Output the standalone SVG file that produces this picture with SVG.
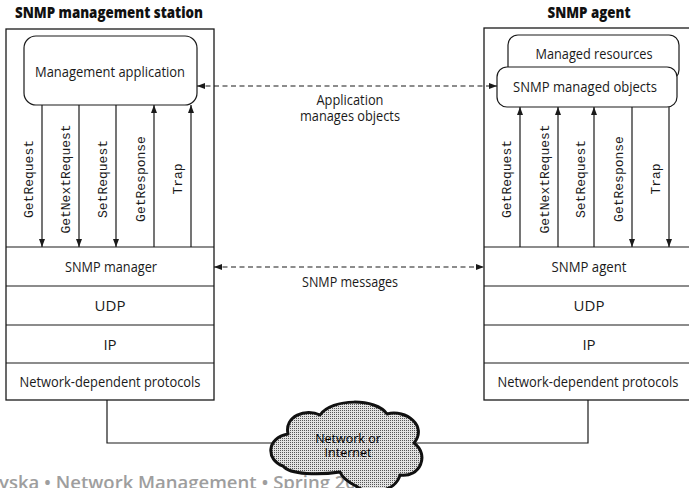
<svg xmlns="http://www.w3.org/2000/svg" width="689" height="488" viewBox="0 0 689 488">
<style>
.box{fill:#fff;stroke:#1a1a1a;stroke-width:1.3}
.rbox{fill:#fff;stroke:#1a1a1a;stroke-width:1.2}
.ln{fill:none;stroke:#1a1a1a;stroke-width:1.2}
.dash{fill:none;stroke:#1a1a1a;stroke-width:1.2;stroke-dasharray:5 3.5}
.t{font-family:"Open Sans","Liberation Sans",sans-serif;font-size:15px;fill:#1a1a1a;text-anchor:middle}
.h{font-family:"Open Sans","Liberation Sans",sans-serif;font-size:15px;font-weight:800;fill:#111;text-anchor:middle}
.m{font-family:"Liberation Mono","Courier New",monospace;font-size:13px;fill:#1a1a1a;text-anchor:middle}
.c{font-family:"Open Sans","Liberation Sans",sans-serif;font-size:12.5px;fill:#000;text-anchor:middle}
.f{font-family:"Open Sans","Liberation Sans",sans-serif;font-size:18.5px;font-weight:600;fill:#9e9e9e}
</style>
<defs>
<marker id="ah" markerWidth="8" markerHeight="6" refX="8" refY="3" orient="auto-start-reverse" markerUnits="userSpaceOnUse">
<path d="M0,0 L8,3 L0,6 z" fill="#1a1a1a"/>
</marker>
<pattern id="dots" width="2" height="2" patternUnits="userSpaceOnUse">
<rect width="2" height="2" fill="#e2e2e2"/>
<rect width="1" height="1" fill="#555"/>
</pattern>
</defs>
<rect width="689" height="488" fill="#fff"/>

<text class="f" x="-1" y="489">yska • Network Management • Spring 2021</text>

<g id="station">
<text class="h" x="109" y="18" textLength="188" lengthAdjust="spacingAndGlyphs">SNMP management station</text>
<rect class="box" x="6" y="29" width="208" height="371"/>
<line class="ln" x1="6" y1="247" x2="214" y2="247"/>
<line class="ln" x1="6" y1="286" x2="214" y2="286"/>
<line class="ln" x1="6" y1="325" x2="214" y2="325"/>
<line class="ln" x1="6" y1="363" x2="214" y2="363"/>
<text class="t" x="111" y="272" textLength="92" lengthAdjust="spacingAndGlyphs">SNMP manager</text>
<text class="t" x="110" y="311">UDP</text>
<text class="t" x="110" y="350">IP</text>
<text class="t" x="110" y="387" textLength="181" lengthAdjust="spacingAndGlyphs">Network-dependent protocols</text>
</g>

<g id="mgmt-app">
<rect class="rbox" x="24" y="36" width="173" height="69" rx="12"/>
<text class="t" x="110" y="77" textLength="150" lengthAdjust="spacingAndGlyphs">Management application</text>
</g>

<g id="agent">
<text class="h" x="589" y="18" textLength="83" lengthAdjust="spacingAndGlyphs">SNMP agent</text>
<rect class="box" x="484" y="28" width="212" height="372"/>
<line class="ln" x1="484" y1="247" x2="696" y2="247"/>
<line class="ln" x1="484" y1="286" x2="696" y2="286"/>
<line class="ln" x1="484" y1="325" x2="696" y2="325"/>
<line class="ln" x1="484" y1="363" x2="696" y2="363"/>
<text class="t" x="589" y="272" textLength="75" lengthAdjust="spacingAndGlyphs">SNMP agent</text>
<text class="t" x="589" y="311">UDP</text>
<text class="t" x="589" y="350">IP</text>
<text class="t" x="588" y="387" textLength="181" lengthAdjust="spacingAndGlyphs">Network-dependent protocols</text>
</g>

<g id="managed-resources">
<rect class="rbox" x="508" y="35" width="171" height="45" rx="10"/>
<text class="t" x="594" y="59" textLength="117" lengthAdjust="spacingAndGlyphs">Managed resources</text>
</g>

<g id="managed-objects">
<rect class="rbox" x="497" y="67" width="180" height="40" rx="10"/>
<text class="t" x="585" y="92" textLength="144" lengthAdjust="spacingAndGlyphs">SNMP managed objects</text>
</g>

<g id="connectors">
<line class="ln" x1="42" y1="105" x2="42" y2="247" marker-end="url(#ah)"/>
<line class="ln" x1="79" y1="105" x2="79" y2="247" marker-end="url(#ah)"/>
<line class="ln" x1="116" y1="105" x2="116" y2="247" marker-end="url(#ah)"/>
<line class="ln" x1="154" y1="247" x2="154" y2="105" marker-end="url(#ah)"/>
<line class="ln" x1="191" y1="247" x2="191" y2="105" marker-end="url(#ah)"/>

<line class="ln" x1="520" y1="247" x2="520" y2="107" marker-end="url(#ah)"/>
<line class="ln" x1="558" y1="247" x2="558" y2="107" marker-end="url(#ah)"/>
<line class="ln" x1="594" y1="247" x2="594" y2="107" marker-end="url(#ah)"/>
<line class="ln" x1="632" y1="107" x2="632" y2="247" marker-end="url(#ah)"/>
<line class="ln" x1="669" y1="107" x2="669" y2="247" marker-end="url(#ah)"/>

<line class="dash" x1="197" y1="86" x2="497" y2="86" marker-start="url(#ah)" marker-end="url(#ah)"/>
<line class="dash" x1="214" y1="267" x2="484" y2="267" marker-start="url(#ah)" marker-end="url(#ah)"/>

<polyline class="ln" points="107,400 107,443 290,443"/>
<polyline class="ln" points="588,400 588,443 410,443"/>
</g>

<g id="labels">
<text class="m" transform="translate(33,179) rotate(-90)">GetRequest</text>
<text class="m" transform="translate(70,179) rotate(-90)">GetNextRequest</text>
<text class="m" transform="translate(107,179) rotate(-90)">SetRequest</text>
<text class="m" transform="translate(145,179) rotate(-90)">GetResponse</text>
<text class="m" transform="translate(182,179) rotate(-90)">Trap</text>

<text class="m" transform="translate(511,179) rotate(-90)">GetRequest</text>
<text class="m" transform="translate(549,179) rotate(-90)">GetNextRequest</text>
<text class="m" transform="translate(585,179) rotate(-90)">SetRequest</text>
<text class="m" transform="translate(623,179) rotate(-90)">GetResponse</text>
<text class="m" transform="translate(660,179) rotate(-90)">Trap</text>

<text class="t" x="350" y="105" textLength="67" lengthAdjust="spacingAndGlyphs">Application</text>
<text class="t" x="350" y="121" textLength="100" lengthAdjust="spacingAndGlyphs">manages objects</text>
<text class="t" x="350" y="287" textLength="96" lengthAdjust="spacingAndGlyphs">SNMP messages</text>
</g>

<g id="cloud">
<path d="M283,466 C266,460 266,438 288,434 C284,416 306,408 320,415 C332,398 376,398 387,414 C406,409 428,426 414,443 C430,455 420,478 400,475 C396,492 368,496 356,486 C348,482 342,477 340,472 C320,475 290,475 283,466 Z" fill="url(#dots)" stroke="#111" stroke-width="3" stroke-linejoin="round"/>
<text class="c" x="348" y="443">Network or</text>
<text class="c" x="348" y="457">Internet</text>
</g>
</svg>
